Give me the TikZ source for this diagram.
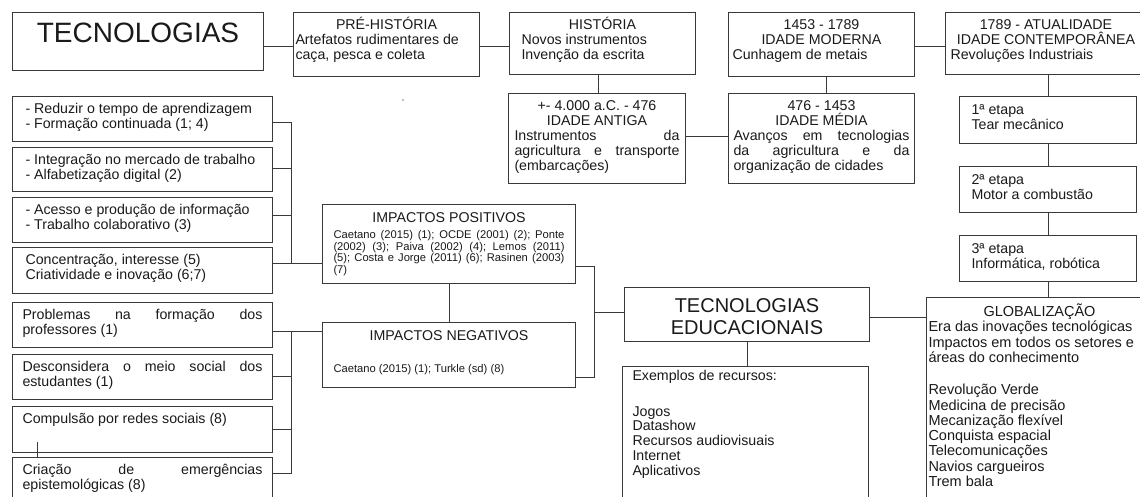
\documentclass[tikz,border=0pt]{standalone}
\usepackage{fontspec}
\setmainfont{Liberation Sans}
\definecolor{linec}{HTML}{3A3A3A}
\definecolor{txtc}{HTML}{1A1A1A}
\newcommand\ctrline[1]{\makebox[\linewidth]{#1}\\}
\tikzset{
  box/.style={draw=linec, line width=1pt, anchor=north west, inner ysep=0pt, inner xsep=10pt,
    text=txtc, font=\fontsize{14.2}{15}\selectfont,
    execute at begin node={\parindent=0pt\parskip=0pt\frenchspacing\hyphenpenalty=10000\exhyphenpenalty=10000}},
  conn/.style={draw=linec, line width=1pt},
}
\begin{document}
\begin{tikzpicture}[x=1pt,y=-1pt]
\useasboundingbox (0,0) rectangle (1140,497);
\clip (0,0) rectangle (1140,497);
\fill[white] (0,0) rectangle (1140,497);

% top row
\node[box, inner xsep=4pt, text width=243pt, text height=30pt, text depth=28pt, align=center,
  font=\fontsize{28}{30}\selectfont] (tec) at (12,12) {TECNOLOGIAS};
\node[box, inner xsep=2pt, text width=182pt, text height=17pt, text depth=47pt, align=flush left] (pre) at (293,12)
  {\ctrline{PRÉ-HISTÓRIA}Artefatos rudimentares de\\caça, pesca e coleta};
\node[box, inner xsep=12pt, text width=162pt, text height=17pt, text depth=45pt, align=flush left] (hist) at (509,12)
  {\ctrline{HISTÓRIA}Novos instrumentos\\Invenção da escrita};
\node[box, inner xsep=4pt, text width=178pt, text height=17pt, text depth=47pt, align=flush left] (mod) at (728,12)
  {\ctrline{1453 - 1789}\ctrline{IDADE MODERNA}Cunhagem de metais};
\node[box, inner xsep=5pt, text width=191pt, text height=17pt, text depth=45pt, align=flush left] (cont) at (945,12)
  {\ctrline{1789 - ATUALIDADE}\ctrline{IDADE CONTEMPORÂNEA}Revoluções Industriais};

% ages
\node[box, inner xsep=6pt, text width=165pt, text height=17pt, text depth=73pt, align=justify] (ant) at (508,93)
  {\ctrline{+- 4.000 a.C. - 476}\ctrline{IDADE ANTIGA}Instrumentos da\linebreak agricultura e transporte\linebreak (embarcações)};
\node[box, inner xsep=5pt, text width=176pt, text height=17pt, text depth=73pt, align=justify] (med) at (728,93)
  {\ctrline{476 - 1453}\ctrline{IDADE MÉDIA}Avanços em tecnologias\linebreak da agricultura e da\linebreak organização de cidades};

% stages
\node[box, inner xsep=12pt, text width=153pt, text height=18pt, text depth=29pt, align=flush left] (e1) at (959,96)
  {1ª etapa\\Tear mecânico};
\node[box, inner xsep=12pt, text width=153pt, text height=18pt, text depth=28pt, align=flush left] (e2) at (959,166)
  {2ª etapa\\Motor a combustão};
\node[box, inner xsep=12pt, text width=153pt, text height=18pt, text depth=28pt, align=flush left] (e3) at (959,235)
  {3ª etapa\\Informática, robótica};
\node[box, inner xsep=2pt, text width=222pt, text height=19pt, text depth=211pt, align=flush left,
  font=\fontsize{14.5}{15.3}\selectfont] (glob) at (926,297)
  {\ctrline{GLOBALIZAÇÃO}Era das inovações tecnológicas\\Impactos em todos os setores e\\áreas do conhecimento\\[17pt]Revolução Verde\\Medicina de precisão\\Mecanização flexível\\Conquista espacial\\Telecomunicações\\Navios cargueiros\\Trem bala};

% left positive column
\node[box, inner xsep=13pt, text width=234pt, text height=17pt, text depth=28pt, align=flush left] (l1) at (12,96)
  {- Reduzir o tempo de aprendizagem\\- Formação continuada (1; 4)};
\node[box, inner xsep=13pt, text width=234pt, text height=17pt, text depth=27pt, align=flush left] (l2) at (12,147)
  {- Integração no mercado de trabalho\\- Alfabetização digital (2)};
\node[box, inner xsep=13pt, text width=234pt, text height=17pt, text depth=28pt, align=flush left] (l3) at (12,197)
  {- Acesso e produção de informação\\- Trabalho colaborativo (3)};
\node[box, inner xsep=13pt, text width=234pt, text height=17pt, text depth=29pt, align=flush left] (l4) at (12,247)
  {Concentração, interesse (5)\\Criatividade e inovação (6;7)};

% left negative column
\node[box, text width=240pt, text height=17pt, text depth=28pt, align=justify] (n1) at (12,302)
  {Problemas na formação dos\linebreak professores (1)};
\node[box, text width=240pt, text height=17pt, text depth=28pt, align=justify] (n2) at (12,354)
  {Desconsidera o meio social dos\linebreak estudantes (1)};
\node[box, text width=240pt, text height=17pt, text depth=29pt, align=flush left] (n3) at (12,406)
  {Compulsão por redes sociais (8)};
\node[box, text width=240pt, text height=17pt, text depth=50pt, align=justify] (n4) at (12,457)
  {Criação de emergências\linebreak epistemológicas (8)};

% impacts
\node[box, inner xsep=11pt, text width=231pt, text height=18pt, text depth=61pt, align=justify] (pos) at (322,204)
  {\makebox[\linewidth]{IMPACTOS POSITIVOS}\\[4.3pt]{\fontsize{11.2}{11.7}\selectfont Caetano (2015) (1); OCDE (2001) (2); Ponte\linebreak (2002) (3); Paiva (2002) (4); Lemos (2011)\linebreak (5); Costa e Jorge (2011) (6); Rasinen (2003)\linebreak (7)\par}};
\node[box, inner xsep=11pt, text width=231pt, text height=18pt, text depth=47pt, align=flush left] (neg) at (322,322)
  {\makebox[\linewidth]{IMPACTOS NEGATIVOS}\\[20pt]{\fontsize{11.2}{11.7}\selectfont Caetano (2015) (1); Turkle (sd) (8)\par}};

% educational technologies
\node[box, inner xsep=4pt, text width=237pt, text height=25pt, text depth=29pt, align=center,
  font=\fontsize{20}{22}\selectfont] (edu) at (624,287) {TECNOLOGIAS\\EDUCACIONAIS};
\node[box, inner xsep=10pt, text width=226pt, text height=14pt, text depth=140pt, align=flush left,
  font=\fontsize{14.2}{14.7}\selectfont] (ex) at (622,366)
  {Exemplos de recursos:\\[21pt]Jogos\\Datashow\\Recursos audiovisuais\\Internet\\Aplicativos};

% connectors top
\draw[conn] (tec.east |- 0,47) -- (pre.west |- 0,47);
\draw[conn] (pre.east |- 0,47) -- (hist.west |- 0,47);
\draw[conn] (mod.east |- 0,47) -- (cont.west |- 0,47);
\draw[conn] (hist.south -| 598,0) -- (ant.north -| 598,0);
\draw[conn] (ant.east |- 0,137) -- (med.west |- 0,137);
\draw[conn] (mod.south -| 826,0) -- (med.north -| 826,0);
\draw[conn] (cont.south -| e1.north) -- (e1.north);
\draw[conn] (e1.south) -- (e2.north);
\draw[conn] (e2.south) -- (e3.north);
\draw[conn] (e3.south) -- (e3.south |- glob.north);

% left buses
\coordinate (pj) at (291,263);
\draw[conn] (l1.east |- 0,123) -| (pj) -- (pj -| pos.west);
\draw[conn] (l2.east |- 0,169) -- (pj |- 0,169);
\draw[conn] (l3.east |- 0,216) -- (pj |- 0,216);
\draw[conn] (l4.east |- pj) -- (pj);
\coordinate (nj) at (291,331);
\draw[conn] (n4.east |- 0,473) -| (nj) -- (nj -| neg.west);
\draw[conn] (n1.east |- nj) -- (nj);
\draw[conn] (n2.east |- 0,376) -- (nj |- 0,376);
\draw[conn] (n3.east |- 0,429) -- (nj |- 0,429);

% centre
\draw[conn] (pos.south) -- (neg.north);
\coordinate (rj) at (594,312);
\draw[conn] (pos.east |- 0,266) -| (rj |- 0,377) -- (neg.east |- 0,377);
\draw[conn] (rj) -- (rj -| edu.west);
\draw[conn] (edu.east |- 0,317) -- (glob.west |- 0,317);
\draw[conn] (edu.south) -- (edu.south |- ex.north);

% stray marks
\draw[conn] (37,442) -- (37,458);
\fill[gray] (403,100) circle (0.8);
\end{tikzpicture}
\end{document}
